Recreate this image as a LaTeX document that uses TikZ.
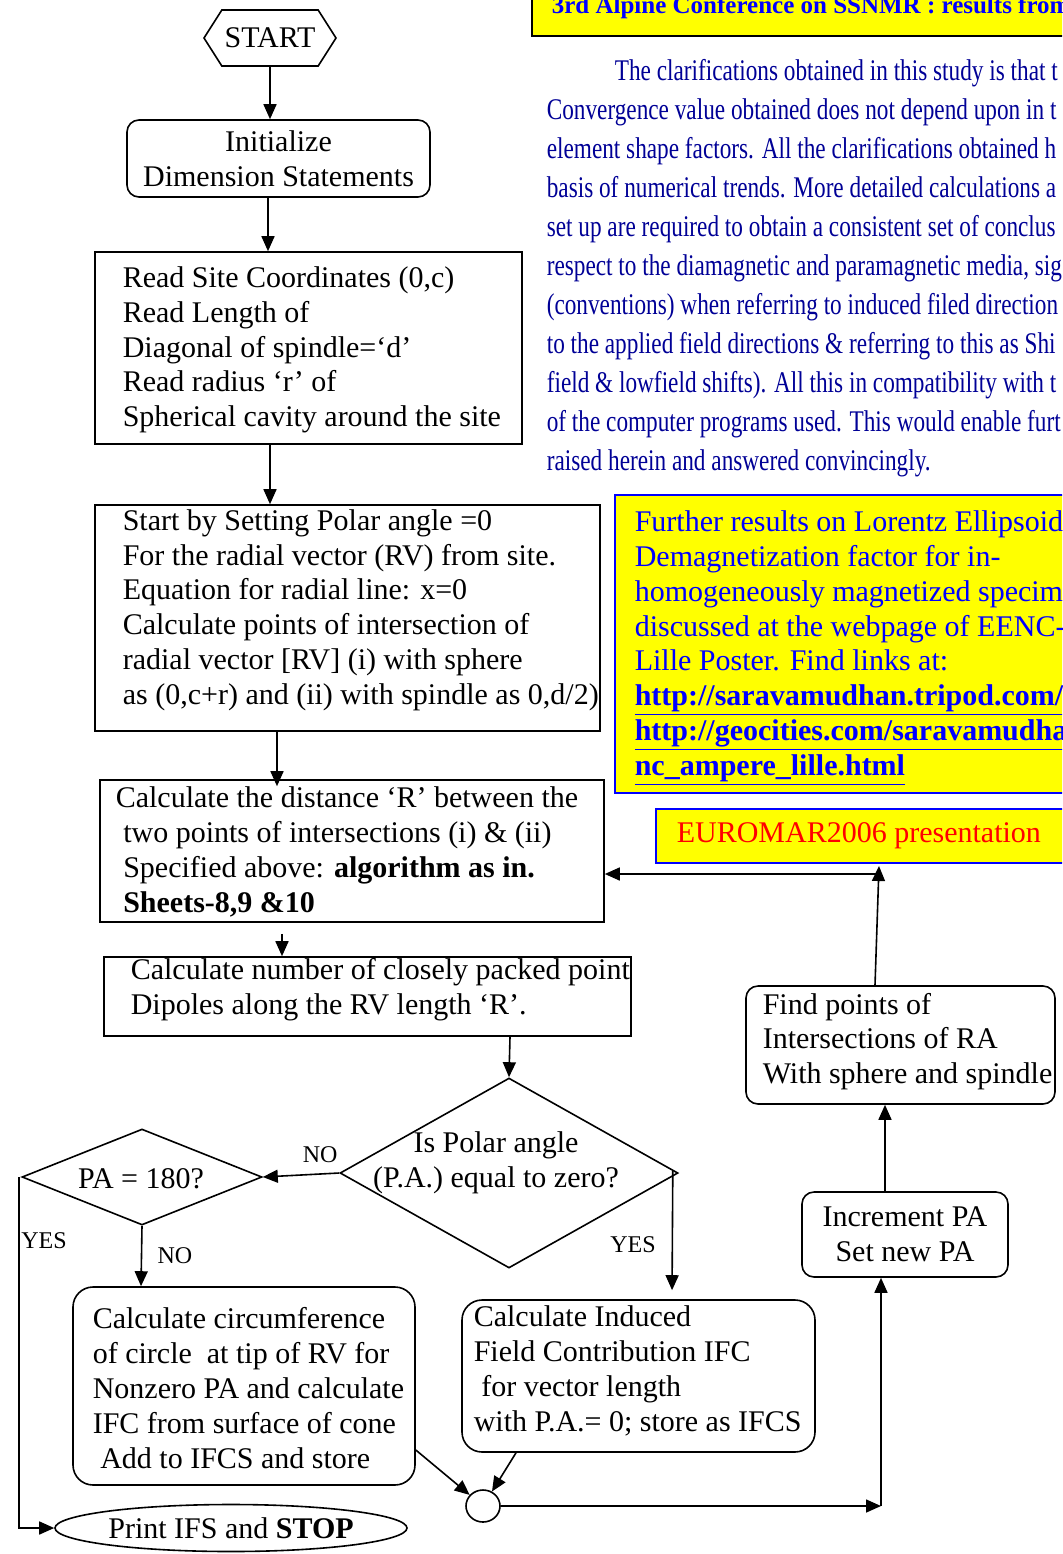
\documentclass[tikz,border=0pt]{standalone}
\usepackage{fontspec}
\setmainfont{Liberation Serif}
\newfontfamily\narrowserif[FakeStretch=0.775]{Liberation Serif}
\usetikzlibrary{arrows.meta,shapes.geometric,shapes.symbols}
\definecolor{noteblue}{RGB}{0,0,255}
\definecolor{parablue}{RGB}{0,0,150}
\definecolor{noteyellow}{RGB}{255,255,0}

\begin{document}
\begin{tikzpicture}[x=0.5pt, y=-0.5pt, line width=0.8pt,
		font=\fontsize{15}{17.4}\selectfont,
		box/.style={draw, rectangle, inner sep=0pt},
		rbox/.style={draw, rectangle, rounded corners=6pt, inner sep=0pt, align=center},
		dia/.style={draw, diamond, inner sep=0pt},
		txt/.style={anchor=west, align=left, inner sep=0pt},
		arr/.style={-{Triangle[length=7.5pt, width=6.5pt]}},
		lbl/.style={font=\fontsize{12}{14}\selectfont, inner sep=0pt}]
			\useasboundingbox (0,0) rectangle (1062,1554);
			\clip (0,0) rectangle (1062,1554);
			% notes on the right
			\node[box, fill=noteyellow, line width=1pt, minimum width=300pt, minimum height=30pt, anchor=south west] (head) at (531,37) {};
			\node[anchor=base west, inner sep=0pt, text=noteblue, font=\fontsize{12.5}{14}\selectfont\bfseries] (headtxt) at (551,13) {3rd Alpine Conference on SSNMR : results from};
			\node[anchor=north west, align=left, inner sep=0pt, text=parablue, font=\narrowserif\fontsize{15}{19.5}\selectfont] (para) at (546,59) {\hspace*{34pt}The clarifications obtained in this study is that t\\
				Convergence value obtained does not depend upon in t\\
				element shape factors. All the clarifications obtained h\\
				basis of numerical trends. More detailed calculations a\\
				set up are required to obtain a consistent set of conclus\\
				respect to the diamagnetic and paramagnetic media, sig\\
				(conventions) when referring to induced filed direction\\
				to the applied field directions \& referring to this as Shi\\
				field \& lowfield shifts). All this in compatibility with t\\
				of the computer programs used. This would enable furt\\
				raised herein and answered convincingly.};
			\node[box, draw=noteblue, fill=noteyellow, minimum width=260pt, minimum height=149pt, anchor=north west] (note) at (614,494) {};
			\node[anchor=north west, align=left, inner sep=0pt, text=noteblue] (notetxt) at (634,510) {Further results on Lorentz Ellipsoid\\
				Demagnetization factor for in-\\
				homogeneously magnetized specim\\
				discussed at the webpage of EENC-\\
				Lille Poster. Find links at:\\
				\underline{\textbf{http://saravamudhan.tripod.com/}}\\
				\underline{\textbf{http://geocities.com/saravamudha}}\\
				\underline{\textbf{nc\_ampere\_lille.html}}};
			\node[box, draw=noteblue, fill=noteyellow, minimum width=250pt, minimum height=27pt, anchor=north west] (euro) at (655,808) {};
			\node[txt, text=red] (eurotxt) at (676,836) {EUROMAR2006 presentation};
			% flow chart
			\node[draw, signal, signal to=west and east, signal pointer angle=115, minimum width=66pt, minimum height=28pt, inner sep=0pt] (start) at (270,38) {START};
			\node[rbox, minimum width=151.5pt, minimum height=38.5pt] (init) at (278.5,158.5) {Initialize\\Dimension Statements};
			\node[box, minimum width=213.5pt, minimum height=96pt] (read) at (308.5,348) {};
			\node[txt] (readtxt) at (122,350) {Read Site Coordinates (0,c)\\Read Length of\\Diagonal of spindle=`d'\\Read radius `r' of\\Spherical cavity around the site};
			\node[box, minimum width=252.5pt, minimum height=113pt] (sbox) at (347.5,618) {};
			\node[txt] (sboxtxt) at (122,610) {Start by Setting Polar angle =0\\For the radial vector (RV) from site.\\Equation for radial line: x=0\\Calculate points of intersection of\\radial vector [RV] (i) with sphere\\as (0,c+r) and (ii) with spindle as 0,d/2)};
			\node[box, minimum width=252pt, minimum height=71pt] (calc) at (352,851) {};
			\node[txt] (calctxt) at (115,852) {Calculate the distance `R' between the\\\ two points of intersections (i) \& (ii)\\\ Specified above: \textbf{algorithm as in.}\\\ \textbf{Sheets-8,9 \&10}};
			\node[box, minimum width=263.5pt, minimum height=39.5pt] (dip) at (367.5,996.5) {};
			\node[txt] (diptxt) at (130,990) {Calculate number of closely packed point\\Dipoles along the RV length `R'.};
			\node[dia, minimum width=169pt, minimum height=95pt] (isz) at (509,1173) {};
			\node[align=center, inner sep=0pt] (isztxt) at (496,1163) {Is Polar angle\\(P.A.) equal to zero?};
			\node[dia, minimum width=120pt, minimum height=48pt] (pa) at (142,1177) {};
			\node[inner sep=0pt] (patxt) at (141,1179) {PA = 180?};
			\node[rbox, rounded corners=10pt, minimum width=171pt, minimum height=99pt] (circ) at (244,1386) {};
			\node[txt] (circtxt) at (92,1388) {Calculate circumference\\of circle\ \ at tip of RV for\\Nonzero PA and calculate\\IFC from surface of cone\\\ Add to IFCS and store};
			\node[rbox, rounded corners=10pt, minimum width=176.5pt, minimum height=76pt] (ind) at (638.5,1376) {};
			\node[txt] (indtxt) at (473,1371) {Calculate Induced\\Field Contribution IFC\\\ for vector length\\with P.A.= 0; store as IFCS};
			\node[draw, ellipse, minimum width=17pt, minimum height=16pt, inner sep=0pt] (jn) at (483,1506) {};
			\node[draw, ellipse, minimum width=176pt, minimum height=23.5pt, inner sep=0pt] (print) at (231,1528) {Print IFS and \textbf{STOP}};
			\node[rbox, minimum width=103pt, minimum height=42.5pt] (incr) at (905,1234.5) {Increment PA\\Set new PA};
			\node[rbox, minimum width=154.5pt, minimum height=59pt] (find) at (900.5,1045) {};
			\node[txt] (findtxt) at (762,1041.5) {Find points of\\Intersections of RA\\With sphere and spindle};
			\coordinate (loop) at (881,1506);
			\coordinate (turn) at (879,874);
			% connectors
			\draw[arr] (start.south) -- ([xshift=-4.25pt]init.north);
			\draw[arr] ([xshift=-5.25pt]init.south) -- ([xshift=-20.25pt]read.north);
			\draw[arr] ([xshift=-19.25pt]read.south) -- ([xshift=-38.75pt]sbox.north);
			\draw[arr, shorten >=-3.5pt] ([xshift=-35.25pt]sbox.south) -- ([xshift=-37.5pt]calc.north);
			\draw[arr] ([xshift=-35pt, yshift=-5.5pt]calc.south) -- ([xshift=-42.75pt]dip.north);
			\draw[arr] ([xshift=71.25pt]dip.south) -- (isz.north);
			\draw[arr] (isz.west) -- (pa.east) node[lbl, pos=0.25, above=5pt] (no1) {NO};
			\draw[arr] (pa.south) -- ([xshift=-51.5pt]circ.north);
			\node[lbl] (no2) at (175,1256) {NO};
			\draw[arr] ([xshift=-1pt]pa.west) |- (print.west);
			\node[lbl] (yes1) at (44,1241) {YES};
			\draw[arr, shorten >=4.5pt] ([xshift=-3pt, yshift=1.5pt]isz.east) -- ([xshift=16.75pt]ind.north);
			\node[lbl] (yes2) at (633,1245) {YES};
			\draw[arr] ([yshift=-32pt]circ.east) -- (jn);
			\draw[arr] ([xshift=-61.25pt]ind.south) -- (jn);
			\draw[arr] (jn.east) -- (loop);
			\draw[arr] (loop) -- ([xshift=-12pt]incr.south);
			\draw[arr] ([xshift=-10pt]incr.north) -- ([xshift=-7.75pt]find.south);
			\draw[arr] ([xshift=-12.75pt]find.north) -- ([yshift=4pt]turn);
			\draw[arr] (turn) -- (turn -| calc.east);
		\end{tikzpicture}
\end{document}
